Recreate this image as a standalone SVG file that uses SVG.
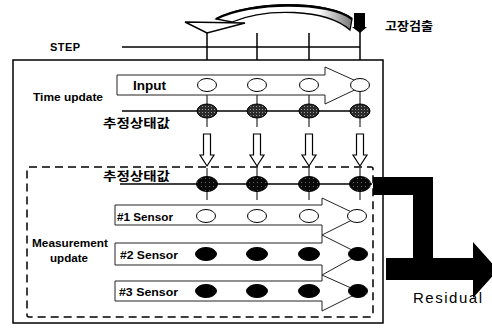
<svg xmlns="http://www.w3.org/2000/svg" width="492" height="330" viewBox="0 0 492 330">
<style>
.ln{stroke:#000;stroke-width:1.5;fill:none}
.thin{stroke:#000;stroke-width:1;fill:none}
.arr{fill:#fff;stroke:#222;stroke-width:1}
.wc{fill:#fff;stroke:#000;stroke-width:1}
.bk{fill:#000;stroke:#000;stroke-width:1}
.ht{fill:url(#hatch);stroke:#000;stroke-width:1}
.sp{fill:url(#speck);stroke:#000;stroke-width:1}
.lb{font-family:"Liberation Sans",Arial,sans-serif;font-weight:bold;fill:#000}
.kr{font-family:"Noto Sans CJK KR","Liberation Sans",sans-serif;font-weight:bold;fill:#000}
.hol{fill:#fff;stroke:#000;stroke-width:1.2}
</style>
<defs>
<pattern id="hatch" width="3" height="3" patternUnits="userSpaceOnUse">
<rect width="3" height="3" fill="#2a2a2a"/>
<rect x="1" y="1" width="1" height="1" fill="#999"/>
</pattern>
<pattern id="speck" width="4" height="4" patternUnits="userSpaceOnUse">
<rect width="4" height="4" fill="#0a0a0a"/>
<rect x="1" y="2" width="1" height="1" fill="#666"/>
</pattern>
<linearGradient id="cg" x1="0" x2="1" y1="0" y2="0">
<stop offset="0" stop-color="#fff"/>
<stop offset="0.75" stop-color="#fff"/>
<stop offset="1" stop-color="#777"/>
</linearGradient>
</defs>
<rect width="492" height="330" fill="#fff"/>

<g id="frames">
<rect x="13" y="60" width="370" height="263" class="ln"/>
<rect x="27" y="167" width="346" height="150" rx="2" fill="none" stroke="#000" stroke-width="1.5" stroke-dasharray="8 5"/>
</g>

<g id="connectors">
<line x1="122" y1="47" x2="360" y2="47" class="ln"/>
<line x1="207" y1="32" x2="207" y2="60" class="ln"/>
<line x1="257" y1="33" x2="257" y2="60" class="ln"/>
<line x1="309" y1="33" x2="309" y2="60" class="ln"/>
<line x1="360" y1="31" x2="360" y2="60" class="ln"/>
<path d="M352 19 C330 0 250 0 216 19 L232 22 C265 8 325 8 350 30 Z" fill="url(#cg)" stroke="#000" stroke-width="1.3"/>
<path d="M352 19 C330 1 250 1 216 19" fill="none" stroke="#000" stroke-width="2.5"/>
<polygon points="185,22 245,23 207,33" fill="#fff" stroke="#000" stroke-width="1.5"/>
<rect x="354" y="13" width="11" height="14" fill="#000"/>
<polygon points="352,27 367,27 360,33" fill="#000"/>
<line x1="122" y1="111" x2="370" y2="111" class="ln"/>
<line x1="120" y1="184" x2="372" y2="184" class="ln"/>
<g class="thin">
<line x1="207" y1="92" x2="207" y2="127"/>
<line x1="257" y1="92" x2="257" y2="127"/>
<line x1="309" y1="92" x2="309" y2="127"/>
<line x1="360" y1="92" x2="360" y2="127"/>
<line x1="207" y1="168" x2="207" y2="200"/>
<line x1="257" y1="168" x2="257" y2="200"/>
<line x1="309" y1="168" x2="309" y2="200"/>
<line x1="360" y1="168" x2="360" y2="200"/>
</g>
<path class="hol" d="M203.5 134 h7 v21 h3.5 l-7 11 l-7 -11 h3.5 z"/>
<path class="hol" d="M253.5 134 h7 v21 h3.5 l-7 11 l-7 -11 h3.5 z"/>
<path class="hol" d="M305.5 134 h7 v21 h3.5 l-7 11 l-7 -11 h3.5 z"/>
<path class="hol" d="M356.5 134 h7 v21 h3.5 l-7 11 l-7 -11 h3.5 z"/>
<path d="M373 177 H433 V258 H473 V242 L498 270 L473 298 V280 H386 V258 H413 V195 H373 Z" fill="#000"/>
</g>

<g id="time-update">
<path class="arr" d="M117 75 H325 V67 L365 85 L325 104 V95 H117 Z"/>
<text class="lb" x="133" y="89.5" font-size="13" textLength="33" lengthAdjust="spacingAndGlyphs">Input</text>
<ellipse class="wc" cx="207" cy="85" rx="9.5" ry="6.5"/>
<ellipse class="wc" cx="257" cy="85" rx="9.5" ry="6.5"/>
<ellipse class="wc" cx="309" cy="85" rx="9.5" ry="6.5"/>
<ellipse class="wc" cx="360" cy="85" rx="9.5" ry="6.5"/>
<ellipse class="ht" cx="207" cy="111" rx="10" ry="7"/>
<ellipse class="ht" cx="257" cy="111" rx="10" ry="7"/>
<ellipse class="ht" cx="309" cy="111" rx="10" ry="7"/>
<ellipse class="ht" cx="360" cy="111" rx="10" ry="7"/>
</g>

<g id="measurement-state">
<ellipse class="sp" cx="207" cy="184" rx="10.5" ry="7.5"/>
<ellipse class="sp" cx="257" cy="184" rx="10.5" ry="7.5"/>
<ellipse class="sp" cx="309" cy="184" rx="10.5" ry="7.5"/>
<ellipse class="sp" cx="360" cy="184" rx="10.5" ry="7.5"/>
</g>

<g id="sensor1">
<path class="arr" d="M115 205 H322 V198 L360 216 L322 235 V225 H115 Z"/>
<text class="lb" x="117" y="220.5" font-size="11.5" textLength="56" lengthAdjust="spacingAndGlyphs">#1 Sensor</text>
<ellipse class="wc" cx="206" cy="216" rx="9.5" ry="6.5"/>
<ellipse class="wc" cx="257" cy="216" rx="9.5" ry="6.5"/>
<ellipse class="wc" cx="309" cy="216" rx="9.5" ry="6.5"/>
<ellipse class="wc" cx="357" cy="216" rx="9.5" ry="6.5"/>
</g>

<g id="sensor2">
<path class="arr" d="M115 243 H322 V235 L360 254 L322 275 V265 H115 Z"/>
<text class="lb" x="120" y="258.5" font-size="11.5" textLength="58" lengthAdjust="spacingAndGlyphs">#2 Sensor</text>
<ellipse class="bk" cx="206" cy="254" rx="10.5" ry="6.5"/>
<ellipse class="bk" cx="257" cy="254" rx="10.5" ry="6.5"/>
<ellipse class="bk" cx="309" cy="254" rx="10.5" ry="6.5"/>
<ellipse class="bk" cx="358" cy="254" rx="9.5" ry="6.5"/>
</g>

<g id="sensor3">
<path class="arr" d="M115 281 H322 V275 L360 292 L322 311 V301 H115 Z"/>
<text class="lb" x="119" y="295.5" font-size="11.5" textLength="59" lengthAdjust="spacingAndGlyphs">#3 Sensor</text>
<ellipse class="bk" cx="206" cy="291" rx="10.5" ry="6.5"/>
<ellipse class="bk" cx="257" cy="291" rx="10.5" ry="6.5"/>
<ellipse class="bk" cx="309" cy="291" rx="10.5" ry="6.5"/>
<ellipse class="bk" cx="358" cy="291" rx="9.5" ry="6.5"/>
</g>

<g id="labels">
<text class="lb" x="50" y="51" font-size="11" textLength="30" lengthAdjust="spacing">STEP</text>
<text class="lb" x="33" y="101" font-size="11.5" textLength="70" lengthAdjust="spacingAndGlyphs">Time update</text>
<text class="kr" x="103" y="128" font-size="12.5" textLength="67" lengthAdjust="spacingAndGlyphs">추정상태값</text>
<text class="kr" x="103" y="181" font-size="12.5" textLength="67" lengthAdjust="spacingAndGlyphs">추정상태값</text>
<text class="lb" x="32" y="247" font-size="11.5" textLength="76" lengthAdjust="spacingAndGlyphs">Measurement</text>
<text class="lb" x="50" y="262" font-size="11.5" textLength="38" lengthAdjust="spacingAndGlyphs">update</text>
<text class="kr" x="385" y="30.5" font-size="12" textLength="48" lengthAdjust="spacingAndGlyphs">고장검출</text>
<text x="413" y="303" font-family="'Liberation Sans',Arial,sans-serif" font-size="15" textLength="69" lengthAdjust="spacing" fill="#000">Residual</text>
</g>
</svg>
